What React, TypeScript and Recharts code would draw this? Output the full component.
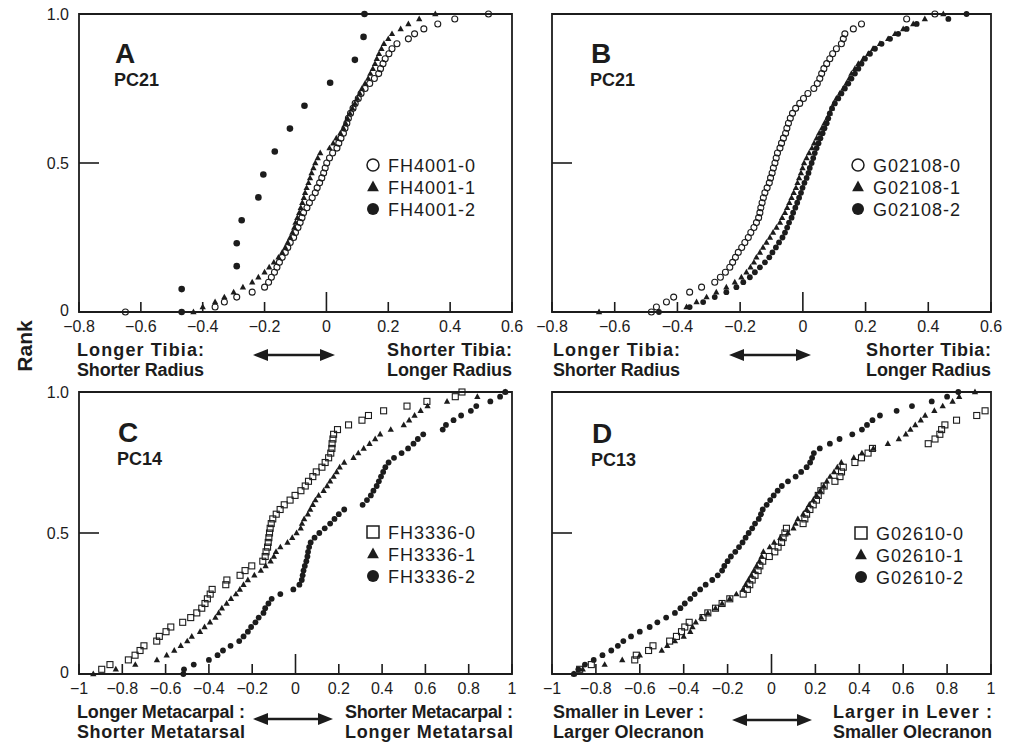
import { ScatterChart, Scatter, XAxis, YAxis, ReferenceArea, Legend } from "recharts";

const INK = "#1c1c1c";
const FONT = '"Liberation Sans", Arial, Helvetica, sans-serif';

// each list holds one specimen's sorted scores; the rank is its place in the list
const fh4001_0 = [-0.65, -0.36, -0.33, -0.29, -0.24, -0.2, -0.187, -0.178, -0.168, -0.16, -0.152, -0.143, -0.133, -0.125, -0.117, -0.106, -0.1, -0.092, -0.085, -0.079, -0.074, -0.063, -0.055, -0.046, -0.036, -0.03, -0.022, -0.015, -0.009, -0.004, 0.001, 0.01, 0.02, 0.034, 0.04, 0.047, 0.055, 0.06, 0.066, 0.071, 0.078, 0.086, 0.093, 0.103, 0.112, 0.125, 0.14, 0.155, 0.169, 0.175, 0.183, 0.19, 0.202, 0.212, 0.228, 0.265, 0.285, 0.315, 0.36, 0.415, 0.524];
const fh4001_1 = [-0.43, -0.4, -0.36, -0.33, -0.3, -0.27, -0.24, -0.22, -0.2, -0.185, -0.17, -0.155, -0.143, -0.133, -0.125, -0.117, -0.11, -0.104, -0.1, -0.094, -0.088, -0.083, -0.078, -0.073, -0.069, -0.064, -0.058, -0.053, -0.048, -0.042, -0.036, -0.028, -0.02, 0.01, 0.022, 0.032, 0.045, 0.055, 0.062, 0.068, 0.076, 0.084, 0.092, 0.1, 0.108, 0.115, 0.125, 0.135, 0.142, 0.15, 0.157, 0.163, 0.17, 0.178, 0.186, 0.2, 0.212, 0.24, 0.265, 0.3, 0.352];
const fh4001_2 = [-0.468, -0.468, -0.29, -0.29, -0.274, -0.22, -0.204, -0.167, -0.118, -0.071, 0.012, 0.092, 0.12, 0.123];

const g02108_0 = [-0.483, -0.467, -0.435, -0.412, -0.361, -0.323, -0.281, -0.263, -0.247, -0.233, -0.224, -0.215, -0.206, -0.195, -0.185, -0.174, -0.166, -0.156, -0.148, -0.141, -0.137, -0.134, -0.13, -0.126, -0.121, -0.114, -0.107, -0.103, -0.098, -0.094, -0.089, -0.085, -0.081, -0.073, -0.068, -0.062, -0.055, -0.051, -0.046, -0.04, -0.033, -0.023, -0.01, 0.002, 0.016, 0.035, 0.046, 0.054, 0.06, 0.067, 0.076, 0.086, 0.095, 0.107, 0.123, 0.129, 0.134, 0.161, 0.187, 0.331, 0.421];
const g02108_1 = [-0.65, -0.371, -0.339, -0.307, -0.276, -0.244, -0.217, -0.196, -0.18, -0.167, -0.156, -0.148, -0.137, -0.127, -0.116, -0.105, -0.095, -0.084, -0.073, -0.066, -0.057, -0.05, -0.043, -0.036, -0.029, -0.022, -0.017, -0.012, -0.006, -0.001, 0.004, 0.012, 0.02, 0.029, 0.036, 0.044, 0.052, 0.061, 0.069, 0.078, 0.086, 0.093, 0.099, 0.107, 0.118, 0.129, 0.139, 0.148, 0.155, 0.166, 0.177, 0.193, 0.209, 0.224, 0.246, 0.272, 0.294, 0.32, 0.352, 0.389, 0.448];
const g02108_2 = [-0.459, -0.361, -0.318, -0.281, -0.244, -0.212, -0.19, -0.169, -0.153, -0.137, -0.121, -0.107, -0.097, -0.086, -0.076, -0.065, -0.057, -0.05, -0.044, -0.036, -0.031, -0.024, -0.018, -0.012, -0.006, -0.001, 0.005, 0.012, 0.018, 0.022, 0.028, 0.033, 0.038, 0.044, 0.05, 0.056, 0.063, 0.069, 0.076, 0.081, 0.086, 0.093, 0.102, 0.113, 0.123, 0.134, 0.145, 0.155, 0.166, 0.177, 0.187, 0.198, 0.214, 0.23, 0.251, 0.278, 0.304, 0.331, 0.363, 0.464, 0.522];

const fh3336_0 = [-1.05, -0.895, -0.857, -0.772, -0.741, -0.718, -0.7, -0.641, -0.629, -0.598, -0.576, -0.521, -0.484, -0.456, -0.433, -0.418, -0.407, -0.394, -0.385, -0.322, -0.317, -0.256, -0.233, -0.202, -0.151, -0.14, -0.136, -0.129, -0.126, -0.123, -0.12, -0.117, -0.112, -0.105, -0.089, -0.071, -0.052, -0.025, -0.002, 0.025, 0.045, 0.06, 0.08, 0.096, 0.122, 0.137, 0.153, 0.163, 0.168, 0.169, 0.173, 0.176, 0.194, 0.245, 0.307, 0.337, 0.407, 0.515, 0.607, 0.738, 0.769];
const fh3336_1 = [-0.934, -0.83, -0.74, -0.64, -0.595, -0.56, -0.53, -0.5, -0.479, -0.441, -0.42, -0.395, -0.37, -0.355, -0.34, -0.318, -0.298, -0.275, -0.257, -0.24, -0.22, -0.19, -0.16, -0.138, -0.115, -0.1, -0.09, -0.07, -0.037, -0.015, 0.005, 0.024, 0.03, 0.04, 0.057, 0.068, 0.08, 0.092, 0.107, 0.13, 0.146, 0.16, 0.176, 0.19, 0.204, 0.225, 0.268, 0.29, 0.315, 0.342, 0.368, 0.391, 0.44, 0.5, 0.525, 0.55, 0.578, 0.61, 0.7, 0.84, 0.969];
const fh3336_2 = [-0.518, -0.515, -0.47, -0.4, -0.36, -0.335, -0.3, -0.26, -0.24, -0.22, -0.205, -0.185, -0.17, -0.148, -0.14, -0.125, -0.11, -0.07, -0.01, 0.018, 0.029, 0.033, 0.037, 0.043, 0.05, 0.055, 0.058, 0.063, 0.07, 0.088, 0.11, 0.135, 0.16, 0.18, 0.2, 0.225, 0.31, 0.33, 0.348, 0.36, 0.375, 0.385, 0.395, 0.405, 0.415, 0.43, 0.455, 0.49, 0.52, 0.545, 0.565, 0.59, 0.68, 0.695, 0.73, 0.765, 0.81, 0.835, 0.9, 0.945, 0.969];

const g02610_0 = [-1.05, -0.874, -0.821, -0.623, -0.616, -0.56, -0.54, -0.464, -0.433, -0.41, -0.395, -0.375, -0.312, -0.29, -0.255, -0.225, -0.19, -0.129, -0.11, -0.099, -0.088, -0.075, -0.061, -0.053, -0.04, -0.01, 0.015, 0.03, 0.046, 0.053, 0.061, 0.068, 0.144, 0.152, 0.16, 0.175, 0.19, 0.205, 0.213, 0.225, 0.24, 0.289, 0.312, 0.319, 0.327, 0.38, 0.41, 0.44, 0.46, 0.714, 0.745, 0.767, 0.775, 0.79, 0.843, 0.935, 0.973, 1.05, 1.08, 1.12, 1.2];
const g02610_1 = [-0.9, -0.86, -0.76, -0.68, -0.6, -0.5, -0.475, -0.44, -0.4, -0.37, -0.36, -0.345, -0.32, -0.29, -0.255, -0.225, -0.19, -0.16, -0.13, -0.118, -0.105, -0.092, -0.08, -0.068, -0.055, -0.045, -0.037, -0.008, 0.012, 0.04, 0.075, 0.1, 0.11, 0.12, 0.144, 0.16, 0.172, 0.19, 0.205, 0.222, 0.238, 0.252, 0.267, 0.285, 0.3, 0.318, 0.375, 0.412, 0.464, 0.53, 0.58, 0.612, 0.633, 0.655, 0.68, 0.7, 0.742, 0.78, 0.825, 0.855, 0.927];
const g02610_2 = [-0.9, -0.88, -0.85, -0.81, -0.77, -0.73, -0.7, -0.675, -0.64, -0.6, -0.555, -0.52, -0.48, -0.44, -0.415, -0.395, -0.37, -0.35, -0.325, -0.3, -0.27, -0.245, -0.225, -0.215, -0.2, -0.185, -0.165, -0.148, -0.132, -0.118, -0.104, -0.088, -0.075, -0.058, -0.048, -0.04, -0.022, -0.006, 0.01, 0.028, 0.047, 0.075, 0.11, 0.135, 0.16, 0.176, 0.185, 0.193, 0.22, 0.266, 0.31, 0.368, 0.412, 0.435, 0.46, 0.494, 0.57, 0.64, 0.73, 0.8, 0.851];

const ticksTop = [-0.8, -0.6, -0.4, -0.2, 0, 0.2, 0.4, 0.6];
const ticksBottom = [-1, -0.8, -0.6, -0.4, -0.2, 0, 0.2, 0.4, 0.6, 0.8, 1];
const rankTicks = [0, 0.5, 1];

type Mark = "openCircle" | "triangle" | "dot" | "openSquare";

// ranks go 0..1 along the sorted list; points past the axis range are left out
const toRank = (xs: number[], lo: number, hi: number) =>
  xs
    .map((x, i) => ({ x, y: i / (xs.length - 1) }))
    .filter((p) => p.x >= lo - 1e-9 && p.x <= hi + 1e-9);

const drawMark = (mark: Mark, cx: number, cy: number, s: number, sw = 1) => {
  switch (mark) {
    case "openCircle":
      return <circle cx={cx} cy={cy} r={s} fill="none" stroke={INK} strokeWidth={sw} />;
    case "dot":
      return <circle cx={cx} cy={cy} r={s} fill={INK} />;
    case "triangle":
      return (
        <path
          d={`M${cx},${cy - s * 1.15}L${cx + s * 1.05},${cy + s * 0.75}L${cx - s * 1.05},${cy + s * 0.75}Z`}
          fill={INK}
        />
      );
    default:
      return (
        <rect x={cx - s} y={cy - s} width={2 * s} height={2 * s} fill="none" stroke={INK} strokeWidth={sw} />
      );
  }
};

const fmt = (v: number) => (v < 0 ? "\u2212" + Math.abs(v) : String(v));

const XTick = (p: any) => {
  const v = p.payload.value;
  const len = v === 0 ? 20 : 10;
  return (
    <g>
      <line x1={p.x} x2={p.x} y1={p.y} y2={p.y - len} stroke={INK} strokeWidth={1.6} />
      <text x={p.x} y={p.y + 19.5} textAnchor="middle" fontSize={16} fontFamily={FONT} fill={INK}>
        {fmt(v)}
      </text>
    </g>
  );
};

const makeYTick = (showLabel: boolean) => (p: any) => {
  const v = p.payload.value;
  return (
    <g>
      {v === 0.5 && <line x1={p.x} x2={p.x + 20} y1={p.y} y2={p.y} stroke={INK} strokeWidth={1.6} />}
      {showLabel && (
        <text x={p.x - 10} y={p.y + (v === 0 ? 3.5 : 5.5)} textAnchor="end" fontSize={16} fontFamily={FONT} fill={INK}>
          {v === 1 ? "1.0" : String(v)}
        </text>
      )}
    </g>
  );
};

type Series = { name: string; values: number[]; mark: Mark; size: number };

type PanelProps = {
  left: number;
  top: number;
  width: number;
  height: number;
  margin: { top: number; right: number; bottom: number; left: number };
  yWidth: number;
  domain: [number, number];
  ticks: number[];
  series: Series[];
  showRankLabels: boolean;
  legendAt: [number, number];
};

function Panel({ left, top, width, height, margin, yWidth, domain, ticks, series, showRankLabels, legendAt }: PanelProps) {
  return (
    <div style={{ position: "absolute", left, top }}>
      <ScatterChart width={width} height={height} margin={margin}>
        <XAxis
          type="number"
          dataKey="x"
          domain={domain}
          ticks={ticks}
          interval={0}
          tickSize={0}
          tickMargin={0}
          axisLine={false}
          tickLine={false}
          height={30}
          tick={XTick}
        />
        <YAxis
          type="number"
          dataKey="y"
          domain={[0, 1]}
          ticks={rankTicks}
          interval={0}
          tickSize={0}
          tickMargin={0}
          axisLine={false}
          tickLine={false}
          width={yWidth}
          tick={makeYTick(showRankLabels)}
        />
        <ReferenceArea x1={domain[0]} x2={domain[1]} y1={0} y2={1} fill="none" fillOpacity={0} stroke={INK} strokeWidth={1.8} />
        {series.map((s) => (
          <Scatter
            key={s.name}
            name={s.name}
            data={toRank(s.values, domain[0], domain[1])}
            isAnimationActive={false}
            shape={(p: any) => drawMark(s.mark, p.cx, p.cy, s.size, 1.1)}
          />
        ))}
        <Legend
          layout="vertical"
          align="center"
          verticalAlign="middle"
          wrapperStyle={{ left: legendAt[0], top: legendAt[1], width: 140, height: 70 }}
          content={() => (
            <svg width={140} height={70} style={{ display: "block", overflow: "visible" }}>
              {series.map((s, i) => (
                <g key={s.name}>
                  {drawMark(s.mark, 8, 12 + i * 22, s.mark === "triangle" ? 5.6 : 6, 1.5)}
                  <text
                    x={23}
                    y={12 + i * 22 + 6.5}
                    fontSize={18}
                    fontFamily={FONT}
                    fill={INK}
                    textLength={87}
                    lengthAdjust="spacing"
                  >
                    {s.name}
                  </text>
                </g>
              ))}
            </svg>
          )}
        />
      </ScatterChart>
    </div>
  );
}

const Arrow = ({ x1, x2, y }: { x1: number; x2: number; y: number }) => (
  <g>
    <line x1={x1 + 10} x2={x2 - 10} y1={y} y2={y} stroke={INK} strokeWidth={2.6} />
    <path d={`M${x1},${y}L${x1 + 15},${y - 6}L${x1 + 15},${y + 6}Z`} fill={INK} />
    <path d={`M${x2},${y}L${x2 - 15},${y - 6}L${x2 - 15},${y + 6}Z`} fill={INK} />
  </g>
);

const Note = ({ x, y, w, lines }: { x: number; y: number; w: number; lines: string[] }) => (
  <g>
    {lines.map((t, i) => (
      <text
        key={t}
        x={x}
        y={y + i * 19.5}
        fontSize={18}
        fontWeight="bold"
        fontFamily={FONT}
        fill={INK}
        textLength={w}
        lengthAdjust="spacing"
      >
        {t}
      </text>
    ))}
  </g>
);

const Title = ({ x, y, letter, pc }: { x: number; y: number; letter: string; pc: string }) => (
  <g fontFamily={FONT} fontWeight="bold" fill={INK}>
    <text x={x} y={y} fontSize={28}>
      {letter}
    </text>
    <text x={x - 1} y={y + 23} fontSize={18}>
      {pc}
    </text>
  </g>
);

const topMargin = { top: 14, right: 33, bottom: 3, left: 39 };
const topMarginR = { top: 14, right: 20, bottom: 3, left: 0 };
const botMargin = { top: 22, right: 33, bottom: 6, left: 39 };
const botMarginR = { top: 22, right: 20, bottom: 6, left: 0 };

export default function App() {
  return (
    <div
      style={{
        position: "absolute",
        left: 0,
        top: 0,
        width: 1011,
        height: 745,
        background: "#fff",
        fontFamily: FONT,
        overflow: "hidden",
      }}
    >
      <Panel
        left={0}
        top={0}
        width={545}
        height={345}
        margin={topMargin}
        yWidth={40}
        domain={[-0.8, 0.6]}
        ticks={ticksTop}
        showRankLabels
        legendAt={[365, 153]}
        series={[
          { name: "FH4001-0", values: fh4001_0, mark: "openCircle", size: 3 },
          { name: "FH4001-1", values: fh4001_1, mark: "triangle", size: 3 },
          { name: "FH4001-2", values: fh4001_2, mark: "dot", size: 3.3 },
        ]}
      />
      <Panel
        left={520}
        top={0}
        width={491}
        height={345}
        margin={topMarginR}
        yWidth={32}
        domain={[-0.8, 0.6]}
        ticks={ticksTop}
        showRankLabels={false}
        legendAt={[330, 153]}
        series={[
          { name: "G02108-0", values: g02108_0, mark: "openCircle", size: 3 },
          { name: "G02108-1", values: g02108_1, mark: "triangle", size: 3 },
          { name: "G02108-2", values: g02108_2, mark: "dot", size: 2.9 },
        ]}
      />
      <Panel
        left={0}
        top={370}
        width={545}
        height={340}
        margin={botMargin}
        yWidth={40}
        domain={[-1, 1]}
        ticks={ticksBottom}
        showRankLabels
        legendAt={[365, 150]}
        series={[
          { name: "FH3336-0", values: fh3336_0, mark: "openSquare", size: 3 },
          { name: "FH3336-1", values: fh3336_1, mark: "triangle", size: 3 },
          { name: "FH3336-2", values: fh3336_2, mark: "dot", size: 2.9 },
        ]}
      />
      <Panel
        left={520}
        top={370}
        width={491}
        height={340}
        margin={botMarginR}
        yWidth={32}
        domain={[-1, 1]}
        ticks={ticksBottom}
        showRankLabels={false}
        legendAt={[333, 151]}
        series={[
          { name: "G02610-0", values: g02610_0, mark: "openSquare", size: 3 },
          { name: "G02610-1", values: g02610_1, mark: "triangle", size: 3 },
          { name: "G02610-2", values: g02610_2, mark: "dot", size: 2.9 },
        ]}
      />
      <svg
        width={1011}
        height={745}
        style={{ position: "absolute", left: 0, top: 0, pointerEvents: "none" }}
      >
        <text
          x={32}
          y={346}
          transform="rotate(-90 32 346)"
          textAnchor="middle"
          fontSize={21}
          fontWeight="bold"
          fontFamily={FONT}
          fill={INK}
        >
          Rank
        </text>
        <Title x={115} y={63} letter="A" pc="PC21" />
        <Title x={591} y={63} letter="B" pc="PC21" />
        <Title x={118} y={442} letter="C" pc="PC14" />
        <Title x={592} y={443} letter="D" pc="PC13" />

        <Note x={77} y={356} w={127} lines={["Longer Tibia:", "Shorter Radius"]} />
        <Arrow x1={253} x2={335} y={355} />
        <Note x={387} y={356} w={125} lines={["Shorter Tibia:", "Longer Radius"]} />

        <Note x={553} y={356} w={127} lines={["Longer Tibia:", "Shorter Radius"]} />
        <Arrow x1={729} x2={811} y={355} />
        <Note x={866} y={356} w={125} lines={["Shorter Tibia:", "Longer Radius"]} />

        <Note x={77} y={718} w={168} lines={["Longer Metacarpal :", "Shorter Metatarsal"]} />
        <Arrow x1={253} x2={333} y={719} />
        <Note x={345} y={718} w={168} lines={["Shorter Metacarpal :", "Longer Metatarsal"]} />

        <Note x={553} y={718} w={151} lines={["Smaller in Lever :", "Larger Olecranon"]} />
        <Arrow x1={732} x2={812} y={720} />
        <Note x={833} y={718} w={159} lines={["Larger in Lever :", "Smaller Olecranon"]} />
      </svg>
    </div>
  );
}
